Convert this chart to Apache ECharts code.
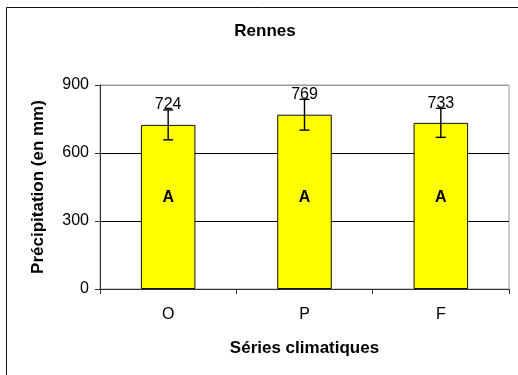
<!DOCTYPE html>
<html>
<head>
<meta charset="utf-8">
<script src="https://cdn.jsdelivr.net/npm/echarts@6/dist/echarts.min.js"></script>
<style>
  html, body { margin: 0; padding: 0; background: #fff; }
  #chart { width: 518px; height: 375px; }
</style>
</head>
<body>
<div id="chart"></div>
<script>
// Mean annual precipitation at Rennes for three climatic series
const categories = ['O', 'P', 'F'];
const precipitation = [724, 769, 733];
const errorMargin = [66, 68, 64];
const groupLetters = ['A', 'A', 'A'];
const yTicks = [0, 300, 600, 900];

const FONT = 'Arial, "Liberation Sans", sans-serif';
const letterLevel = 405; // height at which the group letters sit inside the bars

const chart = echarts.init(document.getElementById('chart'), null, { renderer: 'canvas' });

const errorData = categories.map((c, i) => [i, precipitation[i], errorMargin[i], groupLetters[i]]);

chart.setOption({
  animation: false,
  backgroundColor: '#fff',
  title: {
    text: 'Rennes',
    left: 260, top: 18, textAlign: 'center',
    textStyle: { fontFamily: FONT, fontWeight: 'bold', fontSize: 17, color: '#000' }
  },
  graphic: [{
    type: 'rect',
    shape: { x: 6.5, y: 7.5, width: 600, height: 600 },
    style: { fill: null, stroke: '#111', lineWidth: 1 },
    silent: true
  }],
  grid: {
    left: 100, right: 9, top: 85, bottom: 86,
    show: true, borderColor: '#999', borderWidth: 1, backgroundColor: 'transparent'
  },
  xAxis: {
    type: 'category',
    data: categories,
    name: 'Séries climatiques',
    nameLocation: 'middle', nameGap: 51,
    nameTextStyle: { fontFamily: FONT, fontWeight: 'bold', fontSize: 17, color: '#000' },
    axisLine: { lineStyle: { color: '#333', width: 1 } },
    axisTick: { show: true, length: 5, lineStyle: { color: '#333' } },
    axisLabel: { fontFamily: FONT, fontSize: 16, color: '#000', margin: 18 }
  },
  yAxis: {
    type: 'value',
    min: yTicks[0], max: yTicks[yTicks.length - 1], interval: yTicks[1] - yTicks[0],
    name: 'Précipitation (en mm)',
    nameLocation: 'middle', nameGap: 53,
    nameTextStyle: { fontFamily: FONT, fontWeight: 'bold', fontSize: 17, color: '#000' },
    axisLine: { show: true, lineStyle: { color: '#333', width: 1 } },
    axisTick: { show: true, length: 5, lineStyle: { color: '#333' } },
    axisLabel: { fontFamily: FONT, fontSize: 16, color: '#000', margin: 11 },
    splitLine: { show: true, lineStyle: { color: ['#333', '#000', '#000', '#999'], width: 1 } }
  },
  series: [
    {
      type: 'bar',
      data: precipitation,
      barWidth: '40%',
      itemStyle: { color: '#FFFF00', borderColor: '#111', borderWidth: 1 },
      z: 2
    },
    {
      type: 'custom',
      data: errorData,
      z: 5,
      renderItem: function (params, api) {
        const idx = api.value(0);
        const v = api.value(1);
        const e = api.value(2);
        const top = api.coord([idx, v + e]);
        const bot = api.coord([idx, v - e]);
        const letterPos = api.coord([idx, letterLevel]);
        const half = 5;
        const ls = { stroke: '#000', lineWidth: 1.4 };
        return {
          type: 'group',
          children: [
            { type: 'line', shape: { x1: top[0], y1: top[1], x2: bot[0], y2: bot[1] }, style: ls },
            { type: 'line', shape: { x1: top[0] - half, y1: top[1], x2: top[0] + half, y2: top[1] }, style: ls },
            { type: 'line', shape: { x1: bot[0] - half, y1: bot[1], x2: bot[0] + half, y2: bot[1] }, style: ls },
            {
              type: 'text',
              x: top[0], y: top[1] + 3,
              style: {
                text: String(v), fontFamily: FONT, fontSize: 16, fill: '#000',
                align: 'center', verticalAlign: 'bottom'
              }
            },
            {
              type: 'text',
              x: letterPos[0], y: letterPos[1],
              style: {
                text: api.value(3), fontFamily: FONT, fontSize: 16, fontWeight: 'bold', fill: '#000',
                align: 'center', verticalAlign: 'middle'
              }
            }
          ]
        };
      }
    }
  ]
});
</script>
</body>
</html>
